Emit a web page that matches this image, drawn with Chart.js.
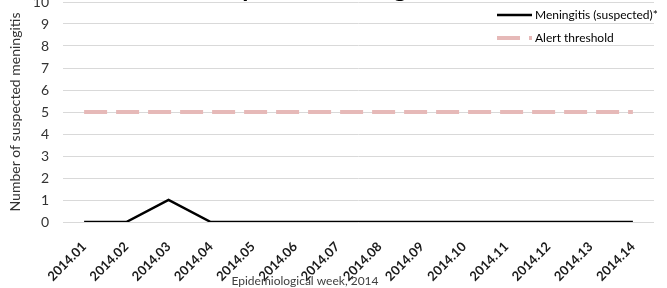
<!DOCTYPE html>
<html>
<head>
<meta charset="utf-8">
<script src="https://cdn.jsdelivr.net/npm/chart.js@4/dist/chart.umd.min.js"></script>
<style>
  html, body { margin: 0; padding: 0; background: #fff; }
  #wrap { width: 667px; height: 288px; }
</style>
</head>
<body>
<div id="wrap"><canvas id="chart" width="667" height="288"></canvas></div>
<script>
const weeks = ['2014.01', '2014.02', '2014.03', '2014.04', '2014.05', '2014.06', '2014.07',
               '2014.08', '2014.09', '2014.10', '2014.11', '2014.12', '2014.13', '2014.14'];
const meningitis = [0, 0, 1, 0, 0, 0, 0, 0, 0, 0, 0, 0, 0, 0];
const alertThreshold = [5, 5, 5, 5, 5, 5, 5, 5, 5, 5, 5, 5, 5, 5];
const titleText = 'Suspected meningitis';
const yTitle = 'Number of suspected meningitis';
const xTitle = 'Epidemiological week, 2014';

const FONT = 'Lato, "Open Sans", sans-serif';

// title (cut off at the top), x-axis title and the in-plot legend are drawn by hand
const extras = {
    id: 'extras',
    afterDraw(chart) {
        const c = chart.ctx;
        c.save();
        c.fillStyle = '#000';
        c.font = 'bold 25px ' + FONT;
        c.textAlign = 'center';
        c.textBaseline = 'alphabetic';
        c.fillText(titleText, 322, -3);

        c.fillStyle = '#404040';
        c.font = '12px ' + FONT;
        c.textBaseline = 'middle';
        c.fillText(xTitle, 305, 281);

        c.textAlign = 'left';
        c.font = '12px ' + FONT;
        chart.data.datasets.forEach((ds, i) => {
            const y = 15 + i * 23;
            c.strokeStyle = ds.borderColor;
            c.lineWidth = ds.borderWidth;
            c.setLineDash(ds.borderDash || []);
            c.beginPath();
            c.moveTo(497, y);
            c.lineTo(532, y);
            c.stroke();
            c.fillStyle = '#000';
            c.fillText(ds.label, 535, y);
        });
        c.restore();
    }
};

new Chart(document.getElementById('chart'), {
    type: 'line',
    data: {
        labels: weeks,
        datasets: [{
            label: 'Meningitis (suspected)*',
            data: meningitis,
            borderColor: '#000000',
            borderWidth: 2.5,
            pointRadius: 0,
            tension: 0,
            fill: false
        }, {
            label: 'Alert threshold',
            data: alertThreshold,
            borderColor: '#e6b9b8',
            borderWidth: 4,
            borderDash: [23, 9],
            pointRadius: 0,
            tension: 0,
            fill: false
        }]
    },
    options: {
        responsive: false,
        animation: false,
        layout: { padding: { top: 2, right: 13, left: 0, bottom: 0 } },
        plugins: {
            legend: { display: false },
            tooltip: { enabled: false }
        },
        scales: {
            x: {
                offset: true,
                grid: { display: false },
                border: { display: false },
                ticks: {
                    color: '#1a1a1a',
                    font: { family: FONT, size: 13, weight: 'bold' },
                    maxRotation: 45,
                    minRotation: 45,
                    autoSkip: false,
                    padding: 9
                },
                afterFit(s) {
                    s.height = 66;
                    s.paddingLeft = 0;
                    s.paddingRight = 0;
                }
            },
            y: {
                min: 0,
                max: 10,
                grid: { color: '#d9d9d9', drawTicks: false },
                border: { display: false },
                ticks: {
                    stepSize: 1,
                    color: '#333333',
                    font: { family: FONT, size: 14 },
                    padding: 14
                },
                title: {
                    display: true,
                    text: yTitle,
                    color: '#333333',
                    font: { family: FONT, size: 14 },
                    padding: { top: 7, bottom: 0 }
                },
                afterFit(s) {
                    s.width = 63;
                    s.paddingTop = 0;
                    s.paddingBottom = 0;
                }
            }
        }
    },
    plugins: [extras]
});
</script>
</body>
</html>
